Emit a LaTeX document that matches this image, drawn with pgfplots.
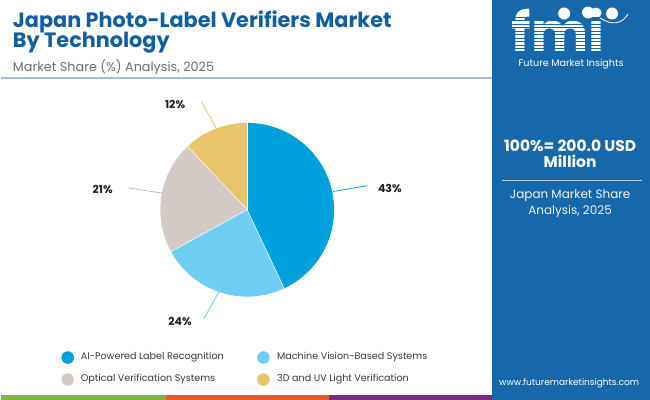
\documentclass[border=0pt]{standalone}
\usepackage{pgfplots}
\pgfplotsset{compat=1.18}
\usepackage{pgfplotstable}
\usepackage{fontspec}
\setmainfont{Poppins}

\definecolor{titleblue}{RGB}{17,94,160}
\definecolor{panelblue}{RGB}{22,104,170}
\definecolor{cA}{RGB}{0,160,220}
\definecolor{cB}{RGB}{110,205,242}
\definecolor{cC}{RGB}{213,203,198}
\definecolor{cD}{RGB}{232,196,106}
\definecolor{subgrey}{RGB}{110,110,110}
\definecolor{rulegrey}{RGB}{170,190,210}
\definecolor{barG}{RGB}{125,183,66}
\definecolor{barO}{RGB}{230,92,44}
\definecolor{barP}{RGB}{128,40,130}

% market share by technology, 2025 (%)
\pgfplotstableread{
tech share
AI 43
MV 24
OV 21
UV 12
}\shares

% cumulative slice angles, clockwise from 12 o'clock
\def\getshare#1{\pgfplotstablegetelem{#1}{share}\of\shares}
\getshare{0}\pgfmathsetmacro\aA{90-3.6*\pgfplotsretval}
\getshare{1}\pgfmathsetmacro\aB{\aA-3.6*\pgfplotsretval}
\getshare{2}\pgfmathsetmacro\aC{\aB-3.6*\pgfplotsretval}
\getshare{3}\pgfmathsetmacro\aD{\aC-3.6*\pgfplotsretval}

\begin{document}
\begin{tikzpicture}
\begin{axis}[
  x=1bp, y=1bp,
  xmin=0, xmax=650, ymin=0, ymax=400,
  y dir=reverse,
  scale only axis,
  hide axis,
  clip=false,
]
% right panel
\fill[panelblue] (axis cs:492,0) rectangle (axis cs:650,400);
% bottom stripe
\fill[barG] (axis cs:0,395.5) rectangle (axis cs:165,400);
\fill[barO] (axis cs:165,395.5) rectangle (axis cs:329,400);
\fill[barP] (axis cs:329,395.5) rectangle (axis cs:492,400);
% rule under subtitle
\draw[rulegrey, line width=1.6bp] (axis cs:0,78) -- (axis cs:492,78);

% titles
\node[anchor=base west, inner sep=0, text=titleblue, font=\fontsize{20.8bp}{21bp}\selectfont\bfseries]
  at (axis cs:12,28) {Japan Photo-Label Verifiers Market};
\node[anchor=base west, inner sep=0, text=titleblue, font=\fontsize{20.8bp}{21bp}\selectfont\bfseries]
  at (axis cs:12,47.5) {By Technology};
\node[anchor=base west, inner sep=0, text=subgrey, font=\fontsize{12.8bp}{13bp}\selectfont]
  at (axis cs:12,72) {Market Share (\%) Analysis, 2025};

% pie
\fill[cA] (axis cs:246.7,210) -- ++(90:87bp) arc[start angle=90, end angle=\aA, radius=87bp] -- cycle;
\fill[cB] (axis cs:246.7,210) -- ++(\aA:87bp) arc[start angle=\aA, end angle=\aB, radius=87bp] -- cycle;
\fill[cC] (axis cs:246.7,210) -- ++(\aB:87bp) arc[start angle=\aB, end angle=\aC, radius=87bp] -- cycle;
\fill[cD] (axis cs:246.7,210) -- ++(\aC:87bp) arc[start angle=\aC, end angle=\aD, radius=87bp] -- cycle;
\draw[white, line width=0.5bp] (axis cs:246.7,210) -- ++(90:87bp);
\draw[white, line width=0.5bp] (axis cs:246.7,210) -- ++(\aA:87bp);
\draw[white, line width=0.5bp] (axis cs:246.7,210) -- ++(\aB:87bp);
\draw[white, line width=0.5bp] (axis cs:246.7,210) -- ++(\aC:87bp);

% leader lines and labels
\draw[cA, line width=0.8bp] (axis cs:332.7,191.7) -- (axis cs:366.7,186);
\draw[cB, line width=0.8bp] (axis cs:219,291) -- (axis cs:203.3,319.3);
\draw[cC!85!black, line width=0.6bp] (axis cs:128.3,188.3) -- (axis cs:161.7,193.3);
\draw[cD, line width=0.8bp] (axis cs:201,101.7) -- (axis cs:216,129);
\begin{scope}[every node/.style={inner sep=0, font=\fontsize{11bp}{12bp}\selectfont\bfseries, text=black!88}]
\node at (axis cs:389.5,189) {43\%};
\node at (axis cs:179.5,322) {24\%};
\node at (axis cs:102,190) {21\%};
\node at (axis cs:174.5,104.5) {12\%};
\end{scope}

% legend
\begin{scope}[every node/.style={anchor=west, inner sep=0, font=\fontsize{9.6bp}{10bp}\selectfont, text=black!78}]
\fill[cA] (axis cs:67,358) circle[radius=6.3bp];
\node at (axis cs:80,358) {AI-Powered Label Recognition};
\fill[cB] (axis cs:263,358) circle[radius=6.3bp];
\node at (axis cs:276.5,358) {Machine Vision-Based Systems};
\fill[cC] (axis cs:67,380) circle[radius=6.3bp];
\node at (axis cs:80,380) {Optical Verification Systems};
\fill[cD] (axis cs:263,380) circle[radius=6.3bp];
\node at (axis cs:276.5,380) {3D and UV Light Verification};
\end{scope}

% logo
\node[anchor=base, inner sep=0, text depth=0pt, text=white, font=\fontsize{54bp}{54bp}\selectfont\bfseries]
  at (axis cs:558,52) {fmi};
\pgfplotsinvokeforeach{17,20.5,24,27.5,31,34.5,38,41.5,45,48.5}{
  \draw[panelblue, line width=0.9bp] (axis cs:510,#1) -- (axis cs:612,#1);
}
\fill[white] (axis cs:564,13.5) circle[radius=6bp];
\fill[white] (axis cs:588,12.5) circle[radius=6bp];
\fill[white] (axis cs:612,13.5) circle[radius=6bp];
\draw[white, line width=0.8bp] (axis cs:600,18) .. controls (axis cs:612,26) and (axis cs:622,24) .. (axis cs:628,14);
\node[anchor=base, inner sep=0, text=white, font=\fontsize{9.6bp}{10bp}\selectfont]
  at (axis cs:571,67) {Future Market Insights};

% panel text
\node[anchor=base, inner sep=0, text=white, font=\fontsize{15.5bp}{16bp}\selectfont\bfseries]
  at (axis cs:570,152) {100\%= 200.0 USD};
\node[anchor=base, inner sep=0, text=white, font=\fontsize{15.5bp}{16bp}\selectfont\bfseries]
  at (axis cs:570,168) {Million};
\draw[white!70!panelblue, line width=1.2bp] (axis cs:502,181) -- (axis cs:642,181);
\node[anchor=base, inner sep=0, text=white!92!panelblue, font=\fontsize{12bp}{13bp}\selectfont]
  at (axis cs:570,199) {Japan Market Share};
\node[anchor=base, inner sep=0, text=white!92!panelblue, font=\fontsize{12bp}{13bp}\selectfont]
  at (axis cs:570,215) {Analysis, 2025};
\node[anchor=base, inner sep=0, text=white, font=\fontsize{9bp}{9bp}\selectfont]
  at (axis cs:569,386) {www.futuremarketinsights.com};
\end{axis}
\end{tikzpicture}
\end{document}
